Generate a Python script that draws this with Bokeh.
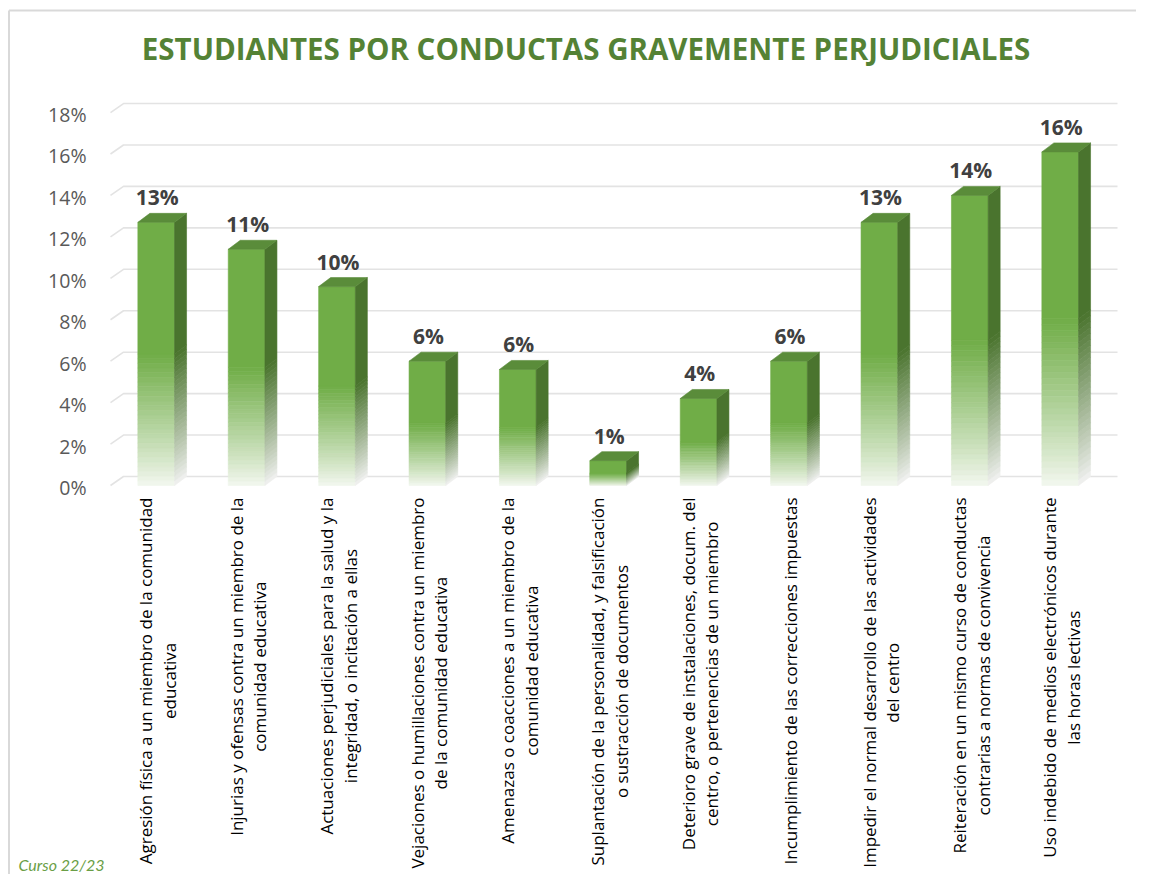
import math
from bokeh.plotting import figure
from bokeh.models import Range1d, ColumnDataSource
from bokeh.core.properties import value
from bokeh.embed import file_html
from bokeh.resources import INLINE

# ---------------- data ----------------
title_text = "ESTUDIANTES POR CONDUCTAS GRAVEMENTE PERJUDICIALES"
categories = [
    "Agresión física a un miembro de la comunidad\neducativa",
    "Injurias y ofensas contra un miembro de la\ncomunidad educativa",
    "Actuaciones perjudiciales para la salud y la\nintegridad, o incitación a ellas",
    "Vejaciones o humillaciones contra un miembro\nde la comunidad educativa",
    "Amenazas o coacciones a un miembro de la\ncomunidad educativa",
    "Suplantación de la personalidad, y falsificación\no sustracción de documentos",
    "Deterioro grave de instalaciones, docum. del\ncentro, o pertenencias de un miembro",
    "Incumplimiento de las correcciones impuestas",
    "Impedir el normal desarrollo de las actividades\ndel centro",
    "Reiteración en un mismo curso de conductas\ncontrarias a normas de convivencia",
    "Uso indebido de medios electrónicos durante\nlas horas lectivas",
]
values = [12.7, 11.4, 9.6, 6.0, 5.6, 1.2, 4.2, 6.0, 12.7, 14.0, 16.1]
value_labels = ["13%", "11%", "10%", "6%", "6%", "1%", "4%", "6%", "13%", "14%", "16%"]
y_ticks = [0, 2, 4, 6, 8, 10, 12, 14, 16, 18]
y_tick_labels = ["0%", "2%", "4%", "6%", "8%", "10%", "12%", "14%", "16%", "18%"]
footer_text = "Curso 22/23"

# ---------------- layout (picture pixels) ----------------
W, H = 1136, 874
X0, SX = 155.7, 90.4      # x of first bar front centre, px per category
Y0, SY = 485.0, 20.72     # y of 0 %, px per percent


def dx(px):
    return px / SX


def dy(px):
    return px / SY


def px_x(sx):
    return (sx - X0) / SX


def px_y(sy):
    return (Y0 - sy) / SY


p = figure(width=W, height=H,
           x_range=Range1d(px_x(0), px_x(W)),
           y_range=Range1d(px_y(H), px_y(0)),
           output_backend="svg", toolbar_location=None,
           x_axis_location=None, y_axis_location=None,
           min_border=0, background_fill_color="white",
           border_fill_color="white")
p.grid.visible = False
p.outline_line_color = None

# chart border (left & top)
p.segment(x0=[px_x(8.5), px_x(8.5)], y0=[px_y(10), px_y(10)],
          x1=[px_x(8.5), px_x(W)], y1=[px_y(H), px_y(10)],
          line_color="#D9D9D9", line_width=2)

# ---------------- gridlines (3D back wall) ----------------
gdx, gdy = dx(13), dy(9)
gx_left, gx_right = px_x(110), px_x(1117)
p.multi_line(xs=[[gx_left, gx_left + gdx, gx_right] for _ in y_ticks],
             ys=[[t, t + gdy, t + gdy] for t in y_ticks],
             line_color="#E3E3E3", line_width=1.6)

# ---------------- bars ----------------
FRONT = (0x70, 0xAD, 0x47)
SIDE = (0x4A, 0x74, 0x2E)
TOP = "#5A8C3A"
FRONT_BOT = (0xF4, 0xF8, 0xF1)
SIDE_BOT = (0xF2, 0xF2, 0xF2)


def mix(a, b, t):
    return "#%02x%02x%02x" % tuple(int(round(a[k] + (b[k] - a[k]) * t)) for k in range(3))


hw = dx(18.35)
ddx, ddy = dx(12), dy(9)
N = 28

fq = dict(left=[], right=[], bottom=[], top=[], color=[])
sp = dict(xs=[], ys=[], color=[])
tp = dict(xs=[], ys=[])
for i, v in enumerate(values):
    xl, xr = i - hw, i + hw
    g = 0.5 * v
    for k in range(N):
        y0 = g * k / N
        y1 = g * (k + 1) / N
        t = (k + 0.5) / N
        fq["left"].append(xl); fq["right"].append(xr)
        fq["bottom"].append(y0); fq["top"].append(y1)
        fq["color"].append(mix(FRONT_BOT, FRONT, t ** 0.9))
        sp["xs"].append([xr, xr + ddx, xr + ddx, xr])
        sp["ys"].append([y0, y0 + ddy, y1 + ddy, y1])
        sp["color"].append(mix(SIDE_BOT, SIDE, t ** 0.9))
    fq["left"].append(xl); fq["right"].append(xr)
    fq["bottom"].append(g); fq["top"].append(v)
    fq["color"].append(mix(FRONT, FRONT, 0))
    sp["xs"].append([xr, xr + ddx, xr + ddx, xr])
    sp["ys"].append([g, g + ddy, v + ddy, v])
    sp["color"].append(mix(SIDE, SIDE, 0))
    tp["xs"].append([xl, xr, xr + ddx, xl + ddx])
    tp["ys"].append([v, v, v + ddy, v + ddy])

p.quad(source=ColumnDataSource(fq), left="left", right="right", bottom="bottom",
       top="top", fill_color="color", line_color="color", line_width=0.6)
p.patches(source=ColumnDataSource(sp), xs="xs", ys="ys", fill_color="color",
          line_color="color", line_width=0.6)
p.patches(source=ColumnDataSource(tp), xs="xs", ys="ys", fill_color=TOP,
          line_color=TOP, line_width=0.6)

# ---------------- value labels ----------------
p.text(x=[i + dx(1) for i in range(len(values))],
       y=[v + dy(25) for v in values], text=value_labels,
       text_font=value("Open Sans"), text_font_style="bold",
       text_font_size="21px", text_color="#404040",
       text_align="center", text_baseline="middle")

# ---------------- y tick labels ----------------
p.text(x=[px_x(86)] * len(y_ticks), y=[t - dy(2) for t in y_ticks],
       text=y_tick_labels, text_font=value("Open Sans"),
       text_font_size="19.5px", text_color="#595959",
       text_align="right", text_baseline="middle")

# ---------------- category labels ----------------
p.text(x=[i + dx(1.5) for i in range(len(categories))],
       y=[px_y(497)] * len(categories), text=categories,
       angle=math.pi / 2, anchor=value("center_right"),
       text_align="center", text_line_height=1.02,
       text_font=value("Open Sans"), text_font_size="17px",
       text_color="#000000")

# ---------------- title & footer ----------------
p.text(x=[px_x(585.5)], y=[px_y(48)], text=[title_text],
       text_font=value("Open Sans"), text_font_style="bold",
       text_font_size="29.5px", text_color="#548235",
       text_align="center", text_baseline="middle")
p.text(x=[px_x(18)], y=[px_y(864)], text=[footer_text],
       text_font=value("Lato"), text_font_style="italic",
       text_font_size="16px", text_color="#6A9E46",
       text_align="left", text_baseline="middle")

open("out.html", "w").write(file_html(p, INLINE))
